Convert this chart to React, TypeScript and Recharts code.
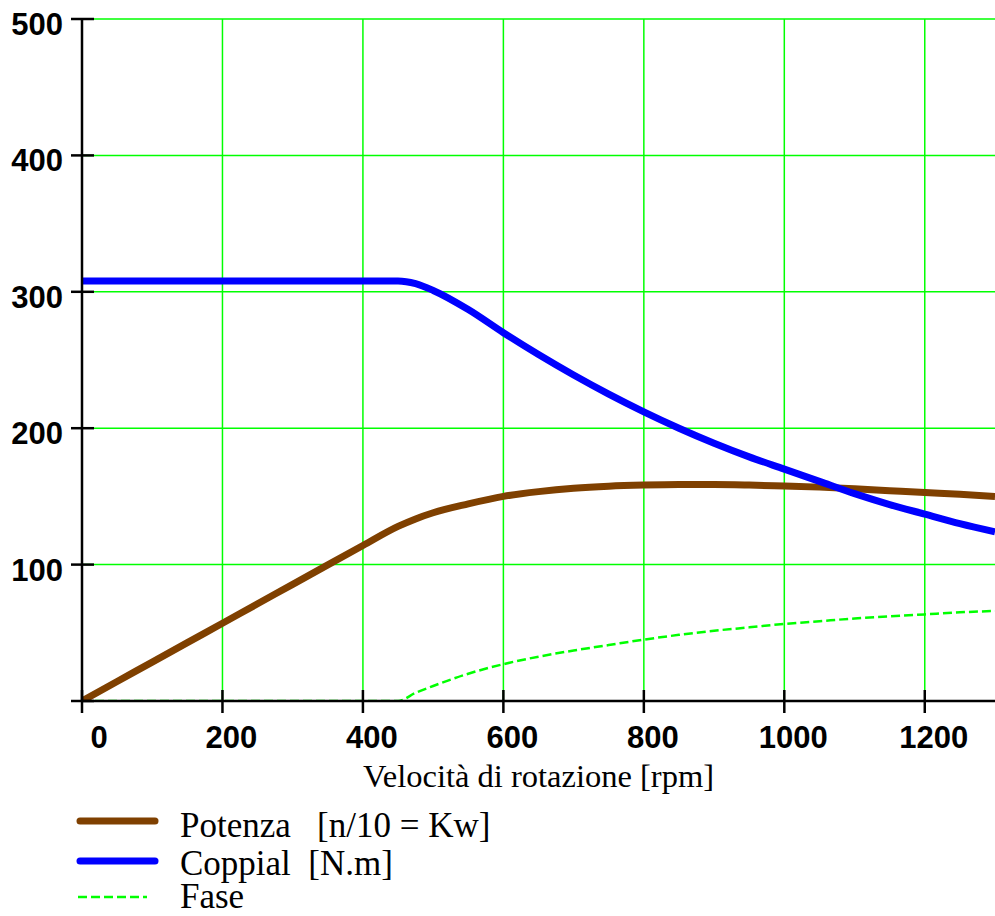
import React from 'react';
import { LineChart, Line, XAxis, YAxis, CartesianGrid, Legend } from 'recharts';

const rpm = [0, 50, 100, 150, 200, 250, 300, 350, 400, 450, 475, 500, 550, 600, 650, 700, 750, 800, 850, 900, 950, 1000, 1050, 1100, 1150, 1200, 1250, 1300];
const potenza = [0, 14.3, 28.5, 42.8, 57, 71.3, 85.5, 99.8, 114, 128, 133.5, 138, 144.5, 150, 153.5, 156, 157.5, 158.3, 158.7, 158.7, 158.3, 157.6, 156.8, 155.6, 154.2, 152.8, 151.5, 150];
const coppia = [308, 308, 308, 308, 308, 308, 308, 308, 308, 308, 306, 301, 287, 270, 254, 239, 225, 212, 200, 189, 179, 170, 161, 152, 144, 137, 130, 124];
const fase = [0, 0, 0, 0, 0, 0, 0, 0, 0, 0, 6, 11, 20, 27, 32.5, 37, 41, 45, 48.5, 51.5, 54, 56.5, 58.5, 60.5, 62, 63.5, 65, 66];

const xTicks = [0, 200, 400, 600, 800, 1000, 1200];
const yTicks = [0, 100, 200, 300, 400, 500];
const xLabel = 'Velocità di rotazione [rpm]';
const legendLabels = ['Potenza   [n/10 = Kw]', 'Coppial  [N.m]', 'Fase'];

const data = rpm.map((r, i) => ({ rpm: r, potenza: potenza[i], coppia: coppia[i], fase: fase[i] }));

const BROWN = '#7F4000';
const BLUE = '#0000FF';
const GREEN = '#00FF00';
const tickFont = { fontFamily: '"Liberation Sans", Arial, sans-serif', fontWeight: 700, fontSize: 31, fill: '#000' };
const serif = '"Liberation Serif", "Times New Roman", serif';
const legendFont = { fontFamily: serif, fontSize: 35, whiteSpace: 'pre' as const, fill: '#000' };

const YTick = (props: any) => {
  const { x, y, payload } = props;
  return (
    <g>
      <line x1={x - 11} x2={x + 12} y1={y} y2={y} stroke="#000" strokeWidth={2.5} />
      {payload.value !== 0 && (
        <text x={x - 19} y={y + 16} textAnchor="end" style={tickFont}>{payload.value}</text>
      )}
    </g>
  );
};

const XTick = (props: any) => {
  const { x, y, payload } = props;
  const dx = payload.value === 0 ? 17 : 9;
  return (
    <g>
      <line x1={x} x2={x} y1={y - 11} y2={y + 12} stroke="#000" strokeWidth={2.5} />
      <text x={x + dx} y={y + 47} textAnchor="middle" style={tickFont}>{payload.value}</text>
    </g>
  );
};

const LegendContent = () => (
  <svg width={600} height={126} style={{ display: 'block' }}>
    <line x1={80} x2={155} y1={31} y2={31} stroke={BROWN} strokeWidth={7} strokeLinecap="round" />
    <line x1={80} x2={155} y1={71} y2={71} stroke={BLUE} strokeWidth={7} strokeLinecap="round" />
    <line x1={78} x2={147} y1={107} y2={107} stroke={GREEN} strokeWidth={2.5} strokeDasharray="9 4" />
    <text x={180} y={47} style={legendFont} xmlSpace="preserve">{legendLabels[0]}</text>
    <text x={180} y={85} style={legendFont} xmlSpace="preserve">{legendLabels[1]}</text>
    <text x={180} y={118} style={legendFont} xmlSpace="preserve">{legendLabels[2]}</text>
  </svg>
);

export default function App() {
  return (
    <div style={{ position: 'absolute', left: 0, top: 0, width: 995, height: 916, background: '#fff' }}>
      <LineChart width={995} height={916} data={data} margin={{ top: 19, right: 0, left: 0, bottom: 0 }}>
        <CartesianGrid stroke={GREEN} strokeWidth={1.5} horizontalValues={yTicks} verticalValues={xTicks} />
        <XAxis
          dataKey="rpm"
          type="number"
          domain={[0, 1300]}
          ticks={xTicks}
          height={215}
          axisLine={{ stroke: '#000', strokeWidth: 2.5 }}
          tickLine={false}
          tickSize={0}
          tickMargin={0}
          tick={<XTick />}
          interval={0}
          allowDataOverflow
          label={{ value: xLabel, position: 'insideTop', offset: 63, style: { fontFamily: serif, fontSize: 32.5, fill: '#000' } }}
        />
        <YAxis
          type="number"
          domain={[0, 500]}
          ticks={yTicks}
          width={82}
          axisLine={{ stroke: '#000', strokeWidth: 2.5 }}
          tickLine={false}
          tickSize={0}
          tickMargin={0}
          tick={<YTick />}
          interval={0}
          allowDataOverflow
        />
        <Legend
          layout="horizontal"
          verticalAlign="middle"
          align="center"
          wrapperStyle={{ position: 'absolute', left: 0, top: 790, width: 600, height: 126 }}
          content={<LegendContent />}
        />
        <Line type="monotone" dataKey="fase" stroke={GREEN} strokeWidth={2.5} strokeDasharray="9 4" dot={false} isAnimationActive={false} />
        <Line type="monotone" dataKey="potenza" stroke={BROWN} strokeWidth={7} dot={false} isAnimationActive={false} />
        <Line type="monotone" dataKey="coppia" stroke={BLUE} strokeWidth={7} dot={false} isAnimationActive={false} />
      </LineChart>
    </div>
  );
}
